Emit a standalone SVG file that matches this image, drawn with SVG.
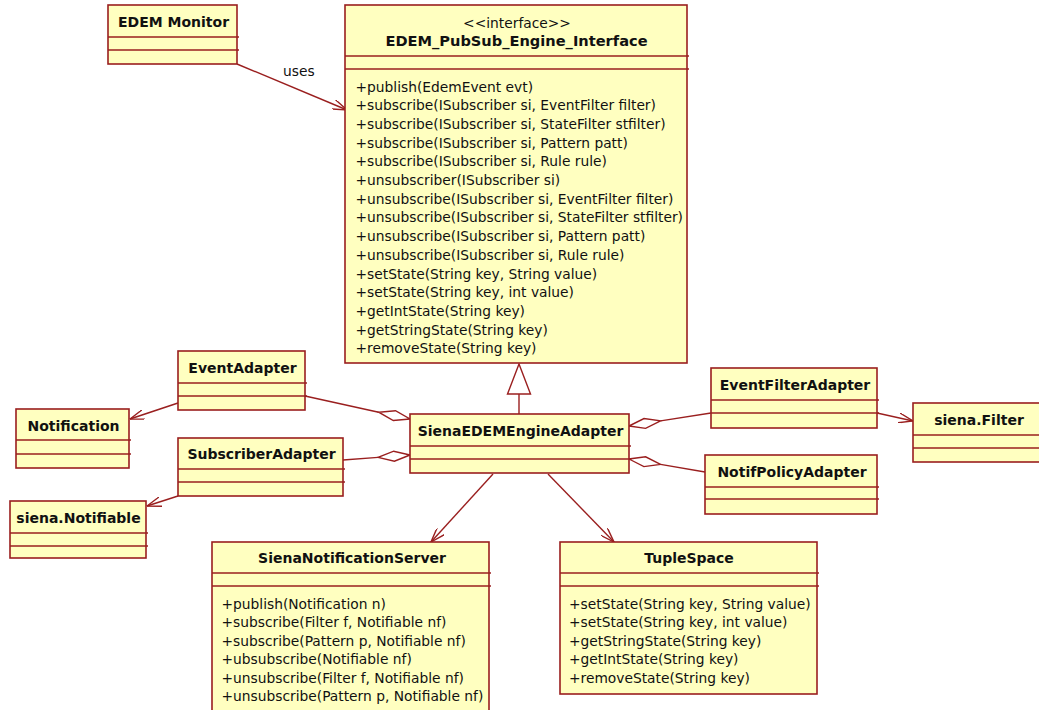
<svg xmlns="http://www.w3.org/2000/svg" width="1039" height="710" viewBox="0 0 1039 710">
  <style>
    .box { fill: #ffffc0; stroke: #9a1f1f; stroke-width: 1.6; }
    .div { stroke: #9a1f1f; stroke-width: 1.3; }
    .edge { stroke: #9a1f1f; stroke-width: 1.4; fill: none; }
    .diamond { stroke: #9a1f1f; stroke-width: 1.4; fill: #ffffff; }
    .title { font-family: "DejaVu Sans", Verdana, sans-serif; font-size: 14px; font-weight: bold; text-anchor: middle; fill: #111111; }
    .txt { font-family: "DejaVu Sans", Verdana, sans-serif; font-size: 13.8px; fill: #111111; }
    .ctr { text-anchor: middle; }
  </style>
  <defs>
    <marker id="open" viewBox="0 0 15 10" refX="14.5" refY="5" markerWidth="15" markerHeight="10" markerUnits="userSpaceOnUse" orient="auto">
      <path d="M0,0 L14.5,5 L0,10" fill="none" stroke="#9a1f1f" stroke-width="1.4"/>
    </marker>
  </defs>
  <rect width="1039" height="710" fill="#ffffff"/>

  <!-- connectors -->
  <g id="connectors">
    <!-- dependency: uses -->
    <line class="edge" x1="237" y1="64" x2="347" y2="110" marker-end="url(#open)"/>
    <text class="txt" x="283" y="76">uses</text>
    <!-- navigable associations -->
    <line class="edge" x1="178" y1="403" x2="130" y2="419" marker-end="url(#open)"/>
    <line class="edge" x1="178" y1="496" x2="147" y2="506" marker-end="url(#open)"/>
    <line class="edge" x1="877" y1="413" x2="913" y2="421" marker-end="url(#open)"/>
    <line class="edge" x1="493" y1="474" x2="431" y2="542" marker-end="url(#open)"/>
    <line class="edge" x1="548" y1="474" x2="614" y2="542" marker-end="url(#open)"/>
    <!-- realization of the interface -->
    <line class="edge" x1="519" y1="414" x2="519" y2="394"/>
    <polygon class="diamond" points="519,364 507.5,394 530.5,394"/>
    <!-- aggregations onto SienaEDEMEngineAdapter -->
    <line class="edge" x1="305" y1="396" x2="378.7" y2="412.2"/>
    <polygon class="diamond" points="410,419 393.3,420.5 378.7,412.2 395.5,410.7"/>
    <line class="edge" x1="343" y1="460" x2="378.1" y2="457.4"/>
    <polygon class="diamond" points="410,455 394.4,461.2 378.1,457.4 393.7,451.2"/>
    <line class="edge" x1="711" y1="413" x2="660.6" y2="420.9"/>
    <polygon class="diamond" points="629,426 645.6,428.4 660.6,420.9 644,418.5"/>
    <line class="edge" x1="705" y1="472" x2="660.5" y2="464.4"/>
    <polygon class="diamond" points="629,459 643.9,466.6 660.5,464.4 645.6,456.8"/>
  </g>

  <g id="edem-monitor">
    <rect class="box" x="108" y="5" width="129" height="59"/>
    <line class="div" x1="108" y1="37" x2="239" y2="37"/>
    <line class="div" x1="108" y1="50" x2="239" y2="50"/>
    <text class="title" x="173.5" y="27.3">EDEM Monitor</text>
  </g>

  <g id="pubsub-interface">
    <rect class="box" x="345" y="5" width="342" height="358"/>
    <line class="div" x1="345" y1="56" x2="689" y2="56"/>
    <line class="div" x1="345" y1="69" x2="689" y2="69"/>
    <text class="txt ctr" x="517" y="27.5">&lt;&lt;interface&gt;&gt;</text>
    <text class="title" x="516.5" y="45.5" style="font-size:14.6px">EDEM_PubSub_Engine_Interface</text>
    <text class="txt" x="355.5" y="91.5">
      <tspan x="355.5" dy="0">+publish(EdemEvent evt)</tspan>
      <tspan x="355.5" dy="18.7">+subscribe(ISubscriber si, EventFilter filter)</tspan>
      <tspan x="355.5" dy="18.7">+subscribe(ISubscriber si, StateFilter stfilter)</tspan>
      <tspan x="355.5" dy="18.7">+subscribe(ISubscriber si, Pattern patt)</tspan>
      <tspan x="355.5" dy="18.7">+subscribe(ISubscriber si, Rule rule)</tspan>
      <tspan x="355.5" dy="18.7">+unsubscriber(ISubscriber si)</tspan>
      <tspan x="355.5" dy="18.7">+unsubscribe(ISubscriber si, EventFilter filter)</tspan>
      <tspan x="355.5" dy="18.7">+unsubscribe(ISubscriber si, StateFilter stfilter)</tspan>
      <tspan x="355.5" dy="18.7">+unsubscribe(ISubscriber si, Pattern patt)</tspan>
      <tspan x="355.5" dy="18.7">+unsubscribe(ISubscriber si, Rule rule)</tspan>
      <tspan x="355.5" dy="18.7">+setState(String key, String value)</tspan>
      <tspan x="355.5" dy="18.7">+setState(String key, int value)</tspan>
      <tspan x="355.5" dy="18.7">+getIntState(String key)</tspan>
      <tspan x="355.5" dy="18.7">+getStringState(String key)</tspan>
      <tspan x="355.5" dy="18.7">+removeState(String key)</tspan>
    </text>
  </g>

  <g id="event-adapter">
    <rect class="box" x="178" y="351" width="127" height="59"/>
    <line class="div" x1="178" y1="383" x2="307" y2="383"/>
    <line class="div" x1="178" y1="396" x2="307" y2="396"/>
    <text class="title" x="242.5" y="373.3">EventAdapter</text>
  </g>

  <g id="notification">
    <rect class="box" x="16" y="409" width="113" height="59"/>
    <line class="div" x1="16" y1="440" x2="131" y2="440"/>
    <line class="div" x1="16" y1="454" x2="131" y2="454"/>
    <text class="title" x="73.5" y="431">Notification</text>
  </g>

  <g id="subscriber-adapter">
    <rect class="box" x="178" y="438" width="165" height="58"/>
    <line class="div" x1="178" y1="469" x2="345" y2="469"/>
    <line class="div" x1="178" y1="482" x2="345" y2="482"/>
    <text class="title" x="261.5" y="459.3">SubscriberAdapter</text>
  </g>

  <g id="siena-notifiable">
    <rect class="box" x="10" y="501" width="136" height="57"/>
    <line class="div" x1="10" y1="533" x2="148" y2="533"/>
    <line class="div" x1="10" y1="546" x2="148" y2="546"/>
    <text class="title" x="78.5" y="523.3">siena.Notifiable</text>
  </g>

  <g id="siena-edem-engine-adapter">
    <rect class="box" x="410" y="414" width="219" height="59"/>
    <line class="div" x1="410" y1="446" x2="631" y2="446"/>
    <line class="div" x1="410" y1="459" x2="631" y2="459"/>
    <text class="title" x="520.5" y="436">SienaEDEMEngineAdapter</text>
  </g>

  <g id="event-filter-adapter">
    <rect class="box" x="711" y="368" width="166" height="60"/>
    <line class="div" x1="711" y1="400" x2="879" y2="400"/>
    <line class="div" x1="711" y1="413" x2="879" y2="413"/>
    <text class="title" x="795" y="390">EventFilterAdapter</text>
  </g>

  <g id="siena-filter">
    <rect class="box" x="913" y="403" width="132" height="59"/>
    <line class="div" x1="913" y1="435" x2="1047" y2="435"/>
    <line class="div" x1="913" y1="448" x2="1047" y2="448"/>
    <text class="title" x="979" y="425">siena.Filter</text>
  </g>

  <g id="notif-policy-adapter">
    <rect class="box" x="705" y="455" width="172" height="59"/>
    <line class="div" x1="705" y1="487" x2="879" y2="487"/>
    <line class="div" x1="705" y1="499" x2="879" y2="499"/>
    <text class="title" x="792" y="477.3">NotifPolicyAdapter</text>
  </g>

  <g id="siena-notification-server">
    <rect class="box" x="212" y="542" width="277" height="180"/>
    <line class="div" x1="212" y1="573" x2="491" y2="573"/>
    <line class="div" x1="212" y1="586" x2="491" y2="586"/>
    <text class="title" x="352" y="563.3">SienaNotificationServer</text>
    <text class="txt" x="221.5" y="608.5">
      <tspan x="221.5" dy="0">+publish(Notification n)</tspan>
      <tspan x="221.5" dy="18.5">+subscribe(Filter f, Notifiable nf)</tspan>
      <tspan x="221.5" dy="18.5">+subscribe(Pattern p, Notifiable nf)</tspan>
      <tspan x="221.5" dy="18.5">+ubsubscribe(Notifiable nf)</tspan>
      <tspan x="221.5" dy="18.5">+unsubscribe(Filter f, Notifiable nf)</tspan>
      <tspan x="221.5" dy="18.5">+unsubscribe(Pattern p, Notifiable nf)</tspan>
    </text>
  </g>

  <g id="tuple-space">
    <rect class="box" x="560" y="542" width="257" height="152"/>
    <line class="div" x1="560" y1="573" x2="819" y2="573"/>
    <line class="div" x1="560" y1="586" x2="819" y2="586"/>
    <text class="title" x="689" y="563.3">TupleSpace</text>
    <text class="txt" x="569" y="608.5">
      <tspan x="569" dy="0">+setState(String key, String value)</tspan>
      <tspan x="569" dy="18.5">+setState(String key, int value)</tspan>
      <tspan x="569" dy="18.5">+getStringState(String key)</tspan>
      <tspan x="569" dy="18.5">+getIntState(String key)</tspan>
      <tspan x="569" dy="18.5">+removeState(String key)</tspan>
    </text>
  </g>
</svg>
